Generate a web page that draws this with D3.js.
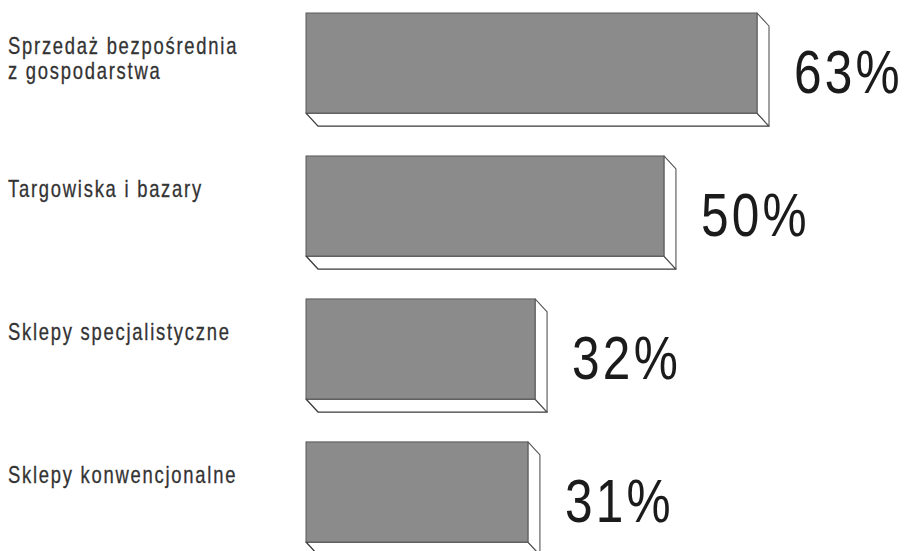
<!DOCTYPE html>
<html>
<head>
<meta charset="utf-8">
<script src="https://cdn.jsdelivr.net/npm/d3@7"></script>
<style>
  html, body { margin: 0; padding: 0; background: #ffffff; }
  svg { display: block; }
</style>
</head>
<body>
<svg id="chart" width="911" height="551"></svg>
<script>
// Kanały sprzedaży – udział odpowiedzi (%)
const categories = [
  "Sprzedaż bezpośrednia\nz gospodarstwa",
  "Targowiska i bazary",
  "Sklepy specjalistyczne",
  "Sklepy konwencjonalne"
];
const values = [63, 50, 32, 31];
const valueLabels = ["63%", "50%", "32%", "31%"];

const svg = d3.select("#chart");

const sans = "'Liberation Sans', Arial, sans-serif";
// horizontal squeeze that gives the condensed look of the lettering
const condense = 0.8;

// value scale: bars start at the left edge of the plotting area
const x = d3.scaleLinear().domain([0, 63]).range([306, 757]);
const y = d3.scaleBand().domain(categories).range([13, 542]).paddingInner(0.3).paddingOuter(0);

// depth of the extruded (3D) faces
const dx = 12, dy = 13;

const rows = svg.selectAll("g.row")
  .data(categories.map((c, i) => ({ cat: c, value: values[i], label: valueLabels[i] })))
  .join("g")
  .attr("class", "row");

// bottom face
rows.append("path")
  .attr("d", d => {
    const x0 = x(0), x1 = x(d.value), y1 = y(d.cat) + y.bandwidth();
    return `M${x0},${y1}L${x0 + dx},${y1 + dy}L${x1 + dx},${y1 + dy}L${x1},${y1}Z`;
  })
  .attr("fill", "#ffffff")
  .attr("stroke", "#3a3a3a")
  .attr("stroke-width", 1.3)
  .attr("stroke-linejoin", "round");

// right face
rows.append("path")
  .attr("d", d => {
    const x1 = x(d.value), y0 = y(d.cat), y1 = y0 + y.bandwidth();
    return `M${x1},${y0}L${x1 + dx},${y0 + dy}L${x1 + dx},${y1 + dy}L${x1},${y1}Z`;
  })
  .attr("fill", "#ffffff")
  .attr("stroke", "#555555")
  .attr("stroke-width", 1.1)
  .attr("stroke-linejoin", "round");

// front face
rows.append("rect")
  .attr("x", x(0))
  .attr("y", d => y(d.cat))
  .attr("width", d => x(d.value) - x(0))
  .attr("height", y.bandwidth())
  .attr("fill", "#8b8b8b")
  .attr("stroke", "#5a5a5a")
  .attr("stroke-width", 1);

// value labels
rows.append("text")
  .attr("transform", d =>
    `translate(${x(d.value) + dx + 25},${y(d.cat) + y.bandwidth() / 2 + 30}) scale(${condense},1)`)
  .attr("font-family", sans)
  .attr("font-size", 62)
  .attr("letter-spacing", 4)
  .attr("fill", "#1b1b1b")
  .text(d => d.label);

// category labels (multi-line), hanging from the top of each bar
rows.append("text")
  .attr("transform", d => `translate(8,${y(d.cat) + 41}) scale(${condense},1)`)
  .attr("font-family", sans)
  .attr("font-size", 23)
  .attr("letter-spacing", 2.2)
  .attr("fill", "#333333")
  .attr("stroke", "#333333")
  .attr("stroke-width", 0.3)
  .each(function (d) {
    const t = d3.select(this);
    d.cat.split("\n").forEach((ln, i) => {
      t.append("tspan")
        .attr("x", 0)
        .attr("y", i * 25)
        .text(ln);
    });
  });
</script>
</body>
</html>
